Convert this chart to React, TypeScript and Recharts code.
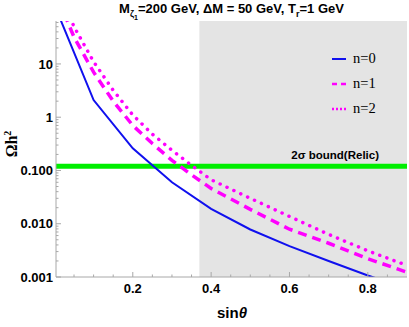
import React from 'react';
import { LineChart, Line, XAxis, YAxis, ReferenceArea, ReferenceLine, Legend } from 'recharts';

// n=0 (solid blue)
const sinN0 = [0.01, 0.1, 0.2, 0.3, 0.4, 0.5, 0.6, 0.7, 0.8, 0.9];
const omegaN0 = [85, 2.1, 0.26, 0.06, 0.019, 0.0078, 0.0038, 0.002, 0.00107, 0.0006];
// n=1 (dashed) and n=2 (dotted)
const sinN12 = [0.01, 0.05, 0.1, 0.15, 0.2, 0.25, 0.3, 0.35, 0.4, 0.5, 0.6, 0.7, 0.8, 0.9];
const omegaN1 = [160, 32, 7, 2, 0.7, 0.32, 0.155, 0.083, 0.046, 0.0186, 0.0079, 0.0043, 0.0022, 0.00123];
const omegaN2 = [250, 50, 11, 3.2, 1.1, 0.48, 0.24, 0.125, 0.067, 0.03, 0.0137, 0.0063, 0.0031, 0.00165];

const seriesNames = ['n=0', 'n=1', 'n=2'];
const relicValue = 0.12;
const relicLabel = '2σ bound(Relic)';
const shadeFrom = 0.37;
const shadeTo = 0.9;

const xDomain = [0.004, 0.9];
const yDomain = [0.001, 64];
const xMajor = [0.2, 0.4, 0.6, 0.8];
const xMajorLabels = ['0.2', '0.4', '0.6', '0.8'];
const xMinor = [0.05, 0.1, 0.15, 0.25, 0.3, 0.35, 0.45, 0.5, 0.55, 0.65, 0.7, 0.75, 0.85];
const yMajor = [0.001, 0.01, 0.1, 1, 10];
const yMajorLabels = ['0.001', '0.010', '0.100', '1', '10'];
const yMinorMult = [2, 3, 4, 5, 6, 7, 8, 9];

const yTicks: number[] = [];
yMajor.forEach((d) => {
  yTicks.push(d);
  yMinorMult.forEach((m) => {
    const v = +(m * d).toPrecision(3);
    if (v <= yDomain[1]) yTicks.push(v);
  });
});
const xTicks = [...xMajor, ...xMinor].sort((a, b) => a - b);

const dataN0 = sinN0.map((s, i) => ({ s, v: omegaN0[i] }));
const dataN1 = sinN12.map((s, i) => ({ s, v: omegaN1[i] }));
const dataN2 = sinN12.map((s, i) => ({ s, v: omegaN2[i] }));

const FRAME = '#a8a8a8';
const tickFont = { fontFamily: 'Liberation Sans, Arial, sans-serif', fontWeight: 700, fontSize: 13, fill: '#000' };

const YLeftTick = (props: any) => {
  const { x, y, payload } = props;
  const idx = yMajor.indexOf(payload.value);
  const ax = x + 3;
  const len = idx >= 0 ? 5 : 2.5;
  return (
    <g>
      <line x1={ax} x2={ax + len} y1={y} y2={y} stroke={FRAME} />
      {idx >= 0 && (
        <text x={x} y={y} dy="0.355em" textAnchor="end" {...tickFont}>
          {yMajorLabels[idx]}
        </text>
      )}
    </g>
  );
};
const YRightTick = (props: any) => {
  const { x, y, payload } = props;
  const idx = yMajor.indexOf(payload.value);
  const len = idx >= 0 ? 5 : 2.5;
  return <line x1={x} x2={x - len} y1={y} y2={y} stroke={FRAME} />;
};
const XBottomTick = (props: any) => {
  const { x, y, payload } = props;
  const idx = xMajor.indexOf(payload.value);
  const ay = y - 7;
  const len = idx >= 0 ? 5 : 2.5;
  return (
    <g>
      <line x1={x} x2={x} y1={ay} y2={ay - len} stroke={FRAME} />
      {idx >= 0 && (
        <text x={x} y={y} dy="0.71em" textAnchor="middle" {...tickFont}>
          {xMajorLabels[idx]}
        </text>
      )}
    </g>
  );
};
const XTopTick = (props: any) => {
  const { x, y, payload } = props;
  const idx = xMajor.indexOf(payload.value);
  const len = idx >= 0 ? 5 : 2.5;
  return <line x1={x} x2={x} y1={y} y2={y + len} stroke={FRAME} />;
};

const LegendContent = (props: any) => {
  const { payload } = props;
  return (
    <div>
      {(payload || []).map((p: any, i: number) => (
        <div key={i} style={{ height: 25, display: 'flex', alignItems: 'center' }}>
          <svg width={20} height={10} style={{ display: 'block' }}>
            <line
              x1={2}
              x2={16}
              y1={5}
              y2={5}
              stroke={p.color}
              strokeWidth={i === 0 ? 2 : 2.5}
              strokeDasharray={i === 1 ? '5 4' : i === 2 ? '2 2' : undefined}
            />
          </svg>
          <span style={{ fontFamily: 'Liberation Serif, Times New Roman, serif', fontSize: 14.5, marginLeft: 3, color: '#000' }}>
            {p.value}
          </span>
        </div>
      ))}
    </div>
  );
};

const RelicLabel = (props: any) => {
  const vb = props.viewBox || {};
  return (
    <text
      x={vb.x + vb.width - 28}
      y={vb.y - 7}
      textAnchor="end"
      fontFamily="Liberation Sans, Arial, sans-serif"
      fontWeight={700}
      fontSize={11.5}
      fill="#000"
    >
      {relicLabel}
    </text>
  );
};

export default function App() {
  return (
    <div style={{ position: 'absolute', left: 0, top: 0, width: 409, height: 327, background: '#fff' }}>
      <LineChart width={409} height={327} margin={{ top: 21, right: 2, left: 6, bottom: 0 }}>
        <XAxis
          xAxisId="b"
          dataKey="s"
          type="number"
          domain={xDomain}
          allowDataOverflow
          ticks={xTicks}
          interval={0}
          height={50}
          tickSize={0}
          tickMargin={7}
          tickLine={false}
          axisLine={{ stroke: FRAME }}
          tick={<XBottomTick />}
        />
        <XAxis
          xAxisId="t"
          orientation="top"
          type="number"
          domain={xDomain}
          allowDataOverflow
          ticks={xTicks}
          interval={0}
          height={0}
          tickSize={0}
          tickMargin={0}
          tickLine={false}
          axisLine={{ stroke: FRAME }}
          tick={<XTopTick />}
        />
        <YAxis
          yAxisId="l"
          type="number"
          scale="log"
          domain={yDomain}
          allowDataOverflow
          ticks={yTicks}
          interval={0}
          width={50}
          tickSize={0}
          tickMargin={3}
          tickLine={false}
          axisLine={{ stroke: FRAME }}
          tick={<YLeftTick />}
        />
        <YAxis
          yAxisId="r"
          orientation="right"
          type="number"
          scale="log"
          domain={yDomain}
          allowDataOverflow
          ticks={yTicks}
          interval={0}
          width={0}
          tickSize={0}
          tickMargin={0}
          tickLine={false}
          axisLine={{ stroke: FRAME }}
          tick={<YRightTick />}
        />
        <ReferenceArea
          xAxisId="b"
          yAxisId="l"
          x1={shadeFrom}
          x2={shadeTo}
          fill="#e4e4e4"
          fillOpacity={1}
          stroke="none"
        />
        <ReferenceLine
          xAxisId="b"
          yAxisId="l"
          y={relicValue}
          stroke="#00ee00"
          strokeWidth={5}
          label={<RelicLabel />}
        />
        <Line
          xAxisId="b"
          yAxisId="l"
          data={dataN0}
          dataKey="v"
          name={seriesNames[0]}
          stroke="#1010ee"
          strokeWidth={2}
          dot={false}
          isAnimationActive={false}
        />
        <Line
          xAxisId="b"
          yAxisId="l"
          data={dataN1}
          dataKey="v"
          name={seriesNames[1]}
          stroke="#ff00ff"
          strokeWidth={3.5}
          strokeDasharray="9 6"
          dot={false}
          isAnimationActive={false}
        />
        <Line
          xAxisId="b"
          yAxisId="l"
          data={dataN2}
          dataKey="v"
          name={seriesNames[2]}
          stroke="#ff00ff"
          strokeWidth={3.5}
          strokeDasharray="0.1 7.5"
          strokeLinecap="round"
          dot={false}
          isAnimationActive={false}
        />
        <Legend
          layout="horizontal"
          verticalAlign="middle"
          align="center"
          content={<LegendContent />}
          wrapperStyle={{ position: 'absolute', left: 330, top: 46, width: 70, height: 80 }}
        />
      </LineChart>
      <div
        style={{
          position: 'absolute',
          left: 56,
          width: 351,
          top: 1,
          textAlign: 'center',
          fontFamily: 'Liberation Sans, Arial, sans-serif',
          fontWeight: 700,
          fontSize: 13,
          lineHeight: '16px',
          whiteSpace: 'nowrap',
        }}
      >
        M<sub style={{ fontSize: 9 }}>ζ<sub style={{ fontSize: 7 }}>1</sub></sub>=200 GeV, ΔM = 50 GeV, T
        <sub style={{ fontSize: 9 }}>r</sub>=1 GeV
      </div>
      <div
        style={{
          position: 'absolute',
          left: 232,
          top: 303,
          transform: 'translateX(-50%)',
          fontFamily: 'Liberation Sans, Arial, sans-serif',
          fontWeight: 700,
          fontSize: 15,
          lineHeight: '20px',
          whiteSpace: 'nowrap',
        }}
      >
        sin<span style={{ fontStyle: 'italic' }}>θ</span>
      </div>
      <div
        style={{
          position: 'absolute',
          left: 10,
          top: 144,
          transform: 'translate(-50%, -50%) rotate(-90deg)',
          fontFamily: 'Liberation Serif, Times New Roman, serif',
          fontWeight: 700,
          fontSize: 16,
          lineHeight: '18px',
          whiteSpace: 'nowrap',
        }}
      >
        Ωh<sup style={{ fontSize: 10 }}>2</sup>
      </div>
    </div>
  );
}
